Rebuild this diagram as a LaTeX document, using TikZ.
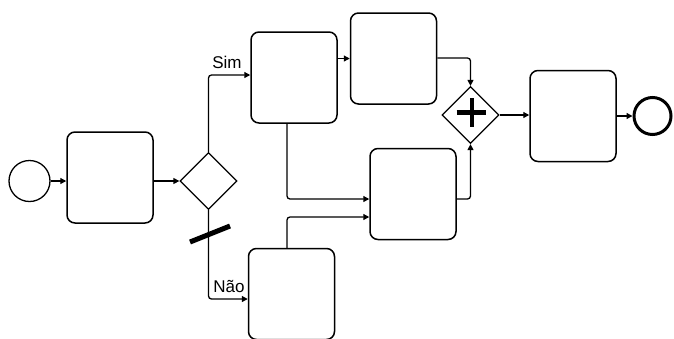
\documentclass[tikz,border=0pt]{standalone}
\usepackage{fontspec}
\setmainfont{Liberation Sans}
\usetikzlibrary{shapes.geometric,arrows.meta}
\begin{document}
\begin{tikzpicture}[x=1pt,y=-1pt,
  task/.style={draw, line width=1.5pt, rounded corners=8pt, minimum width=86pt, minimum height=91pt, inner sep=0pt},
  gate/.style={draw, diamond, line width=1.3pt, minimum width=57pt, minimum height=57pt, inner sep=0pt},
  evt/.style={draw, circle, line width=1.3pt, inner sep=0pt},
  flow/.style={line width=1.3pt, rounded corners=3pt, -{Triangle[length=6pt,width=6pt]}},
  lbl/.style={font=\fontsize{17}{19}\selectfont, inner sep=0pt}]
\useasboundingbox (0,0) rectangle (674,338);
\node[evt, minimum size=41pt] (start) at (29.5,181) {};
\node[task] (t1) at (110,177.5) {};
\node[gate] (g1) at (208.5,181) {};
\node[task] (t2) at (294,77.5) {};
\node[task] (t3) at (393.5,58.5) {};
\node[gate] (g2) at (470.5,115) {};
\node[task] (t4) at (413,194) {};
\node[task] (t5) at (573,116) {};
\node[evt, minimum size=37pt, line width=3pt] (end) at (652.5,116) {};
\node[task] (t6) at (291.5,294) {};
\node[lbl] (sim) at (227,62) {Sim};
\node[lbl] (nao) at (229,286) {Não};
% plus marker
\draw[line width=4.5pt] ([xshift=-14pt,yshift=2.5pt]g2.center) -- ([xshift=15pt,yshift=2.5pt]g2.center);
\draw[line width=4.5pt] ([xshift=1.5pt,yshift=17pt]g2.center) -- ([xshift=1.5pt,yshift=-12pt]g2.center);
% flows
\draw[flow] (start.east) -- (start.east -| t1.west);
\draw[flow] (g1.west -| t1.east) -- (g1.west);
\draw[flow] (g1.north) |- ([yshift=2.5pt]t2.west);
\draw[flow] (g1.south) |- ([yshift=-5pt]t6.west);
\draw[flow] (t3.west -| t2.east) -- (t3.west);
\draw[flow] ([xshift=-7pt]t2.south) |- ([yshift=-5pt]t4.west);
\draw[flow] ([xshift=-4.5pt]t6.north) |- ([yshift=-23pt]t4.west);
\draw[flow] ([yshift=0.5pt]t3.east) -| (g2.north);
\draw[flow] ([yshift=-5pt]t4.east) -| (g2.south);
\draw[flow] (g2.east) -- (g2.east -| t5.west);
\draw[flow] (t5.east) -- (end.west);
% default flow slash
\coordinate (s1) at (190,242);
\coordinate (s2) at (230,226);
\draw[line width=5pt] (s1) -- (s2);
\end{tikzpicture}
\end{document}
